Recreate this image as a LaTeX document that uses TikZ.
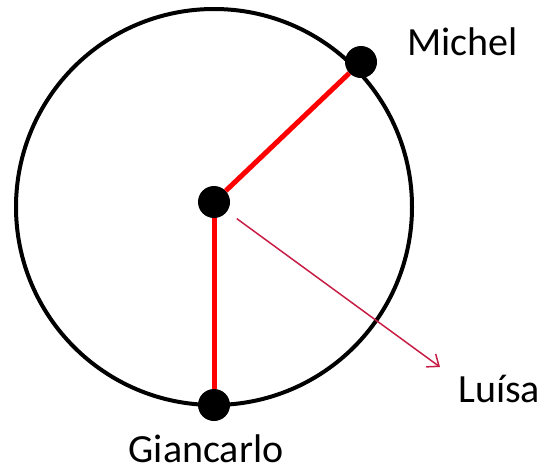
\documentclass[tikz,border=0pt]{standalone}
\usepackage{fontspec}
\setmainfont{Carlito}
\usetikzlibrary{arrows.meta}
\definecolor{arrowred}{RGB}{200,30,70}
\begin{document}
\begin{tikzpicture}[x=1pt,y=-1pt,
  dot/.style={circle,fill=black,minimum size=32pt,inner sep=0pt},
  lbl/.style={inner sep=0pt,font=\fontsize{40}{48}\selectfont},
  radius line/.style={red,line width=5pt},
  pointer/.style={arrowred,line width=1.5pt,-{Straight Barb[length=10pt,width=16pt]}}]
\useasboundingbox (0,0) rectangle (543,469);
\draw[line width=4pt] (214,207) circle (198pt);
\node[dot] (c) at (214,202) {};
\node[dot] (m) at (361,62) {};
\node[dot] (g) at (214,405) {};
\coordinate (lt) at (440,367);
\draw[radius line] (c) -- (m);
\draw[radius line] (c) -- (g);
\draw[pointer,shorten <=12pt] (c) -- (lt);
\node[lbl,anchor=base west] (ml) at (407,55) {Michel};
\node[lbl,anchor=base west] (ll) at (458,402) {Luísa};
\node[lbl,anchor=base] (gl) at (206,462) {Giancarlo};
\end{tikzpicture}
\end{document}
